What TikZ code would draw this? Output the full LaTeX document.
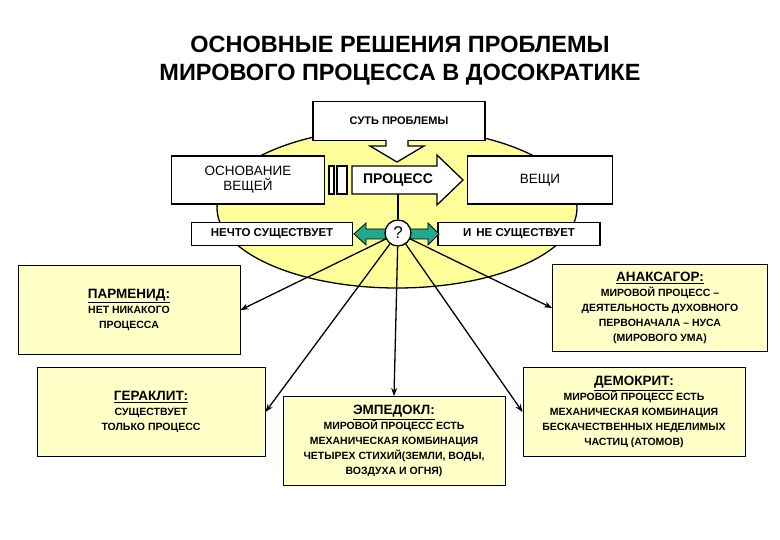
\documentclass[tikz,border=0pt]{standalone}
\usepackage{fontspec}
\setmainfont{Liberation Sans}
\usetikzlibrary{arrows.meta,shapes.geometric}
\definecolor{pale}{HTML}{FFFFC8}
\definecolor{ell}{HTML}{FFFF99}
\definecolor{tealc}{HTML}{22A88C}
\begin{document}
\begin{tikzpicture}[x=1pt,y=-1pt,line width=1.3pt,
  wbox/.style={draw,fill=white,inner sep=0pt},
  ybox/.style={draw,line width=0.9pt,fill=pale,inner sep=0pt},
  con/.style={line width=1.3pt,-{Stealth[length=8pt,width=6pt]}},
  tx/.style={font=\bfseries\fontsize{10.5}{15}\selectfont,align=center}]
\useasboundingbox (0,0) rectangle (780,540);
\node[font=\bfseries\fontsize{23.5}{28}\selectfont,align=center] (title) at (400,61) {ОСНОВНЫЕ РЕШЕНИЯ ПРОБЛЕМЫ\\МИРОВОГО ПРОЦЕССА В ДОСОКРАТИКЕ};
\node[ellipse,draw,fill=ell,minimum width=360,minimum height=160,inner sep=0pt] (e) at (397,208) {};
\node[wbox,minimum width=172,minimum height=39,font=\bfseries\fontsize{11}{13}\selectfont] (sut) at (399,121) {СУТЬ ПРОБЛЕМЫ};
\draw[fill=white] (386,140) -- (386,146) -- (370,146) -- (397,162) -- (424,146) -- (408,146) -- (408,140);
\node[wbox,minimum width=153,minimum height=48,font=\fontsize{13.5}{15}\selectfont,align=center] (osn) at (248,180) {ОСНОВАНИЕ\\ВЕЩЕЙ};
\node[wbox,minimum width=145,minimum height=48,font=\fontsize{13.5}{15}\selectfont] (ves) at (540,180) {ВЕЩИ};
\draw[fill=white] (329,166) rectangle (334,194);
\draw[fill=white] (337,166) rectangle (347,194);
\draw[fill=white] (352,166) -- (437,166) -- (437,155) -- (463,180) -- (437,205) -- (437,194) -- (352,194) -- cycle;
\node[font=\bfseries\fontsize{14}{16}\selectfont] (proc) at (398,180) {ПРОЦЕСС};
\node[wbox,minimum width=161,minimum height=23,font=\bfseries\fontsize{11.5}{13}\selectfont] (nech) at (272,234) {НЕЧТО СУЩЕСТВУЕТ};
\node[wbox,minimum width=162,minimum height=23,font=\bfseries\fontsize{11.5}{13}\selectfont] (ine) at (519,234) {И\, НЕ СУЩЕСТВУЕТ};
\draw[line width=0.8pt,fill=tealc] (354,234) -- (366,223) -- (366,229) -- (428,229) -- (428,223) -- (439,234) -- (428,245) -- (428,239) -- (366,239) -- (366,245) -- cycle;
\node[circle,draw,fill=white,minimum size=26,inner sep=0pt,font=\fontsize{17}{17}\selectfont] (q) at (398,233) {?};
\draw (398,194) -- (q.north);
\node[ybox,minimum width=222,minimum height=89,tx] (par) at (129,310) {\fontsize{13.5}{16}\selectfont\underline{ПАРМЕНИД:}\\НЕТ НИКАКОГО\\ПРОЦЕССА};
\node[ybox,minimum width=228,minimum height=89,tx] (ger) at (151,412) {\fontsize{13.5}{16}\selectfont\underline{ГЕРАКЛИТ:}\\СУЩЕСТВУЕТ\\ТОЛЬКО ПРОЦЕСС};
\node[ybox,minimum width=222,minimum height=89,tx] (emp) at (394,441) {\fontsize{13.5}{16}\selectfont\underline{ЭМПЕДОКЛ:}\\МИРОВОЙ ПРОЦЕСС ЕСТЬ\\МЕХАНИЧЕСКАЯ КОМБИНАЦИЯ\\ЧЕТЫРЕХ СТИХИЙ(ЗЕМЛИ, ВОДЫ,\\ВОЗДУХА И ОГНЯ)};
\node[ybox,minimum width=215,minimum height=87,tx] (ana) at (660,308) {\fontsize{13.5}{16}\selectfont\underline{АНАКСАГОР:}\\МИРОВОЙ ПРОЦЕСС --\\ДЕЯТЕЛЬНОСТЬ ДУХОВНОГО\\ПЕРВОНАЧАЛА -- НУСА\\(МИРОВОГО УМА)};
\node[ybox,minimum width=222,minimum height=89,tx] (dem) at (634,412) {\fontsize{13.5}{16}\selectfont\underline{ДЕМОКРИТ:}\\МИРОВОЙ ПРОЦЕСС ЕСТЬ\\МЕХАНИЧЕСКАЯ КОМБИНАЦИЯ\\БЕСКАЧЕСТВЕННЫХ НЕДЕЛИМЫХ\\ЧАСТИЦ (АТОМОВ)};
\draw[con] (q) -- (par.east);
\draw[con] (q) -- (ger.east);
\draw[con] (q) -- (emp.north);
\draw[con] (q) -- (ana.west);
\draw[con] (q) -- (dem.west);
\end{tikzpicture}
\end{document}
